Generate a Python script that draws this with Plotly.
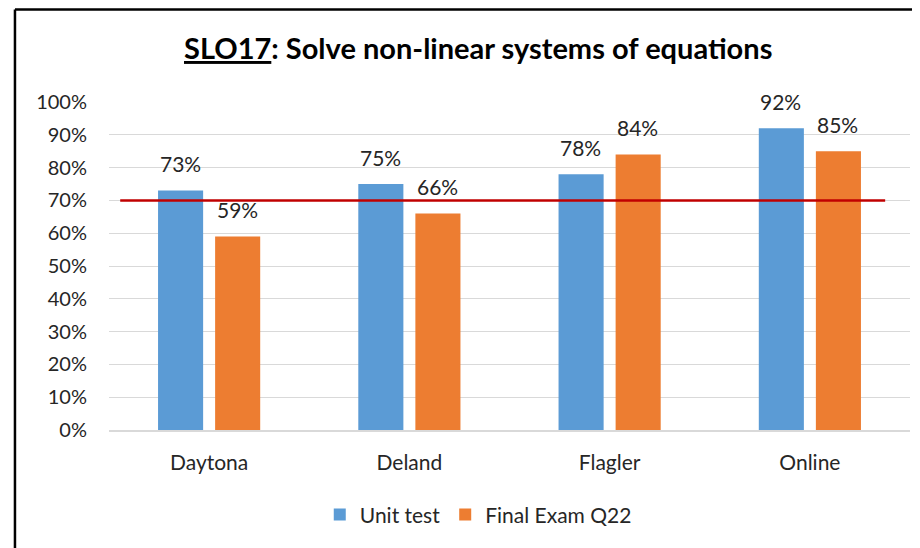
import plotly.graph_objects as go

categories = ["Daytona", "Deland", "Flagler", "Online"]
unit_test = [0.73, 0.75, 0.78, 0.92]
final_exam = [0.59, 0.66, 0.84, 0.85]
series_names = ["Unit test", "Final Exam Q22"]
target = 0.70
y_ticks = [0, 0.1, 0.2, 0.3, 0.4, 0.5, 0.6, 0.7, 0.8, 0.9, 1.0]
y_tick_labels = ["0%", "10%", "20%", "30%", "40%", "50%", "60%", "70%", "80%", "90%", "100%"]

FONT = "Lato"
BLUE = "#5B9BD5"
ORANGE = "#ED7D31"

fig = go.Figure()
fig.add_trace(go.Bar(x=categories, y=unit_test, name=series_names[0],
                     marker=dict(color=BLUE, line=dict(width=0))))
fig.add_trace(go.Bar(x=categories, y=final_exam, name=series_names[1],
                     marker=dict(color=ORANGE, line=dict(width=0))))

annotations = []
for vals, shift in ((unit_test, -29), (final_exam, 28)):
    for c, v in zip(categories, vals):
        annotations.append(dict(x=c, y=v, xref="x", yref="y", text=f"{round(v*100)}%",
                                showarrow=False, xshift=shift, yshift=27, yanchor="middle",
                                font=dict(family=FONT, size=21, color="#262626")))

annotations.append(dict(x=0.461, y=1.165, xref="paper", yref="paper",
                        text="<b><u>SLO17</u>: Solve non-linear systems of equations</b>",
                        showarrow=False, xanchor="center", yanchor="middle",
                        font=dict(family=FONT, size=29, color="#000000")))

shapes = [
    dict(type="line", xref="paper", yref="y", x0=0.014, x1=0.969, y0=target, y1=target,
         line=dict(color="#C00000", width=2.5)),
    dict(type="line", xref="paper", yref="paper", x0=-0.1174, x1=-0.1174, y0=-0.6, y1=1.282,
         line=dict(color="#000000", width=2.5)),
    dict(type="line", xref="paper", yref="paper", x0=-0.1174, x1=1.1, y0=1.282, y1=1.282,
         line=dict(color="#000000", width=2.5)),
]

fig.update_layout(
    width=920, height=548,
    margin=dict(l=101, r=18, t=94, b=126),
    paper_bgcolor="white", plot_bgcolor="white",
    barmode="group", bargap=0.43, bargroupgap=0.21,
    font=dict(family=FONT, size=20, color="#262626"),
    showlegend=True,
    legend=dict(orientation="h", x=0.461, xanchor="center", y=-0.259, yanchor="middle",
                font=dict(family=FONT, size=21, color="#262626"), itemwidth=30,
                traceorder="normal"),
    annotations=annotations,
    shapes=shapes,
)
fig.update_yaxes(range=[0, 1.0], tickvals=y_ticks, ticktext=y_tick_labels,
                 showgrid=True, gridcolor="#D9D9D9", gridwidth=1, zeroline=False,
                 ticklabelstandoff=21, tickfont=dict(family=FONT, size=20, color="#262626"))
fig.update_xaxes(showline=True, linecolor="#D9D9D9", linewidth=1.5, ticks="",
                 ticklabelstandoff=13, tickfont=dict(family=FONT, size=21, color="#262626"))

fig.write_html("out.html")
